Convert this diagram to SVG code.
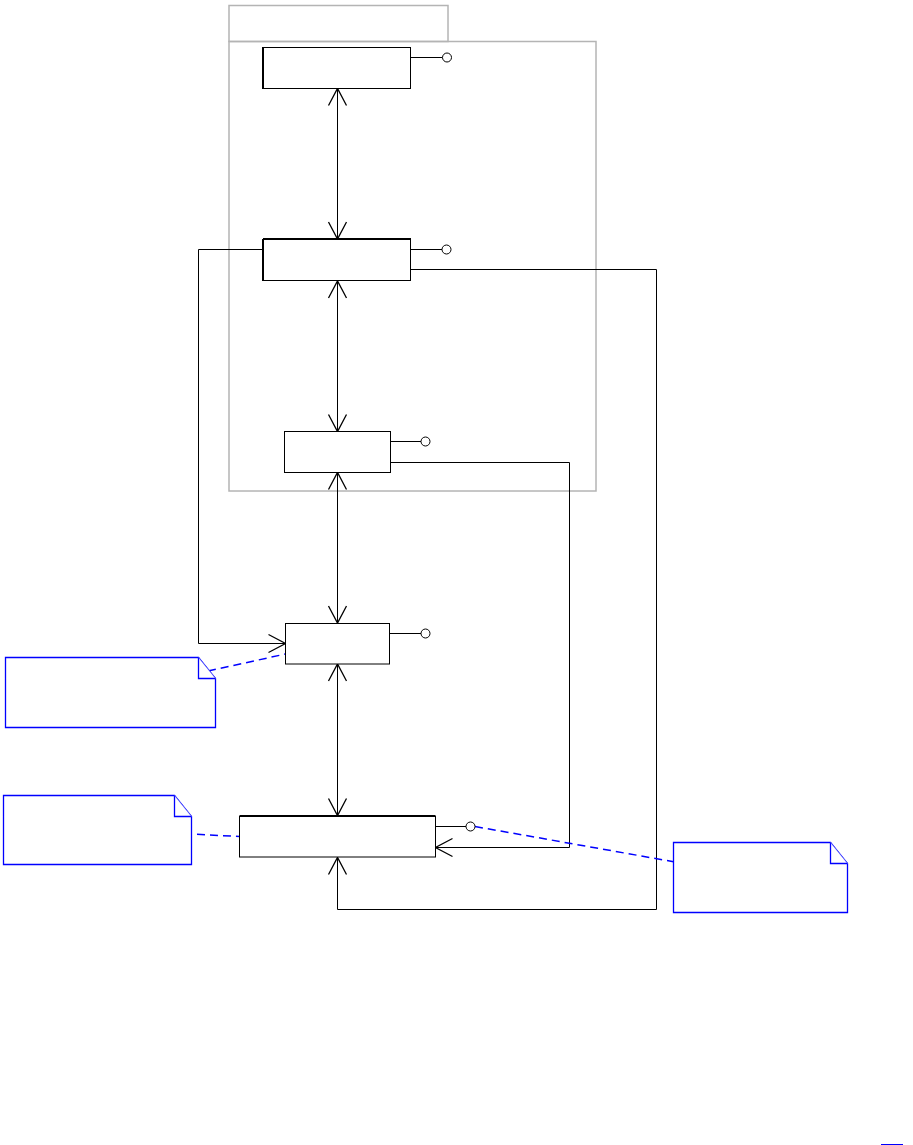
<svg xmlns="http://www.w3.org/2000/svg" width="913" height="1145" viewBox="0 0 913 1145">
<style>
.pkg{fill:none;stroke:#b4b4b4;stroke-width:1.5}
.box{fill:#fff;stroke:#000;stroke-width:1}
.edge{stroke:#000;stroke-width:2}
.ln{fill:none;stroke:#000;stroke-width:1}
.lol{fill:#fff;stroke:#000;stroke-width:1}
.note{fill:#fff;stroke:#0000ff;stroke-width:1.3}
.fold{fill:none;stroke:#6a6aff;stroke-width:0.6}
.dash{fill:none;stroke:#0000ff;stroke-width:1.5;stroke-dasharray:8,5}
</style>
<defs>
<marker id="arr" markerUnits="userSpaceOnUse" markerWidth="22" markerHeight="22" viewBox="-20 -11 22 22" refX="0" refY="0" orient="auto-start-reverse">
<path d="M-17,-9 L0,0 L-17,9" fill="none" stroke="#000" stroke-width="1.3"/>
</marker>
</defs>
<rect width="913" height="1145" fill="#fff"/>
<g id="package">
<rect class="pkg" x="229" y="5.5" width="219" height="36"/>
<rect class="pkg" x="229" y="41.5" width="367" height="449.5"/>
</g>
<g id="connectors">
<line class="ln" x1="337.5" y1="88.5" x2="337.5" y2="239" marker-start="url(#arr)" marker-end="url(#arr)"/>
<line class="ln" x1="337.5" y1="281" x2="337.5" y2="431.5" marker-start="url(#arr)" marker-end="url(#arr)"/>
<line class="ln" x1="337.5" y1="472.5" x2="337.5" y2="623" marker-start="url(#arr)" marker-end="url(#arr)"/>
<line class="ln" x1="337.5" y1="664" x2="337.5" y2="815.5" marker-start="url(#arr)" marker-end="url(#arr)"/>
<path class="ln" d="M263,249.5 H198.5 V643.5 H285.5" marker-end="url(#arr)"/>
<path class="ln" d="M411,269.5 H656.5 V909.5 H337.5 V857.5" marker-end="url(#arr)"/>
<path class="ln" d="M390.5,462.5 H569.5 V847.5 H435.5" marker-end="url(#arr)"/>
<line class="dash" x1="208" y1="671" x2="285.5" y2="654"/>
<line class="dash" x1="197" y1="834.3" x2="239.5" y2="836.5"/>
<line class="dash" x1="475" y1="826.5" x2="673.5" y2="861.7"/>
</g>
<g id="nodeA">
<rect class="box" x="263.5" y="47.5" width="147" height="41"/>
<line class="edge" x1="263" y1="47" x2="263" y2="89"/>
<line class="ln" x1="410.5" y1="57.5" x2="442.5" y2="57.5"/>
<circle class="lol" cx="447" cy="57.5" r="4.5"/>
</g>
<g id="nodeB">
<rect class="box" x="263.5" y="239.5" width="147" height="41"/>
<line class="edge" x1="263" y1="239" x2="263" y2="281"/>
<line class="edge" x1="263" y1="239" x2="411" y2="239"/>
<line class="ln" x1="410.5" y1="249.5" x2="442" y2="249.5"/>
<circle class="lol" cx="446.5" cy="249.5" r="4.5"/>
</g>
<g id="nodeC">
<rect class="box" x="284.5" y="431.5" width="106" height="41"/>
<line class="ln" x1="390.5" y1="441.5" x2="421" y2="441.5"/>
<circle class="lol" cx="425.5" cy="441.5" r="4.5"/>
</g>
<g id="nodeD">
<rect class="box" x="285.5" y="623.5" width="104" height="40.5"/>
<line class="ln" x1="389.5" y1="633.5" x2="421" y2="633.5"/>
<circle class="lol" cx="425.5" cy="633.5" r="4.5"/>
</g>
<g id="nodeE">
<rect class="box" x="239.5" y="816.5" width="196" height="40.5"/>
<line class="edge" x1="239.5" y1="816" x2="435.5" y2="816"/>
<line class="ln" x1="435.5" y1="826.5" x2="466" y2="826.5"/>
<circle class="lol" cx="470.5" cy="826.5" r="4.5"/>
</g>
<g id="note1">
<path class="note" d="M5.5,657.5 H198.5 L215.5,678.5 V727.5 H5.5 Z"/>
<path class="note" d="M198.5,657.5 V678.5 H215.5"/>
<line class="fold" x1="198.5" y1="657.5" x2="215.5" y2="678.5"/>
</g>
<g id="note2">
<path class="note" d="M3.5,795.5 H174.5 L191.5,816.5 V864.5 H3.5 Z"/>
<path class="note" d="M174.5,795.5 V816.5 H191.5"/>
<line class="fold" x1="174.5" y1="795.5" x2="191.5" y2="816.5"/>
</g>
<g id="note3">
<path class="note" d="M673.5,842.5 H830.5 L847.5,863.5 V912.5 H673.5 Z"/>
<path class="note" d="M830.5,842.5 V863.5 H847.5"/>
<line class="fold" x1="830.5" y1="842.5" x2="847.5" y2="863.5"/>
</g>
<line x1="881" y1="1144.5" x2="903" y2="1144.5" stroke="#0000ff" stroke-width="1"/>
</svg>
